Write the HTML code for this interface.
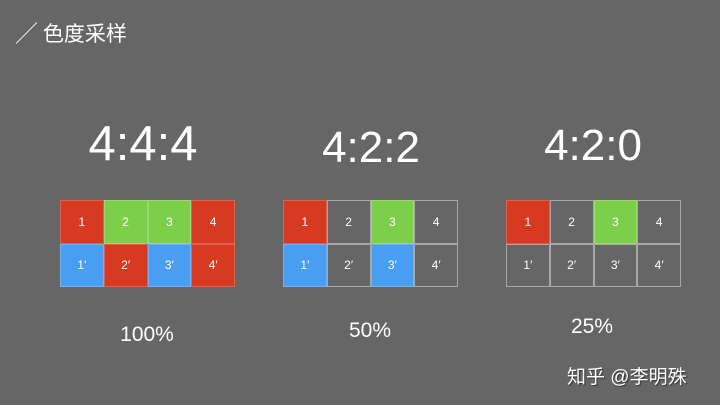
<!DOCTYPE html>
<html><head><meta charset="utf-8"><style>
html,body{margin:0;padding:0}
body{width:720px;height:405px;background:#666;position:relative;overflow:hidden;font-family:"Liberation Sans","Noto Sans CJK SC",sans-serif;color:#fff}
.t{position:absolute;white-space:nowrap}
.grid{position:absolute;width:175px;height:87px}
.cell{position:absolute;width:43.75px;height:43.5px;box-sizing:border-box;border:1px solid #a8a8a8;font-size:12px;display:flex;align-items:center;justify-content:center}
.r{background:#d63b22;border-color:#e06050}.g{background:#7dcf4b;border-color:#9ad870}.b{background:#4a9ef2;border-color:#70b2f4}
</style></head><body>
<div class="t" style="left:16px;top:18px;font-size:21px;">╱ 色度采样</div>
<div class="t" style="left:143px;top:116px;transform:translateX(-50%);font-size:49px">4:4:4</div>
<div class="t" style="left:371px;top:123px;transform:translateX(-50%);font-size:44px">4:2:2</div>
<div class="t" style="left:593px;top:121px;transform:translateX(-50%);font-size:44px">4:2:0</div>
<div class="t" style="left:147px;top:323px;transform:translateX(-50%);font-size:21px">100%</div>
<div class="t" style="left:370px;top:319px;transform:translateX(-50%);font-size:21px">50%</div>
<div class="t" style="left:592px;top:315px;transform:translateX(-50%);font-size:21px">25%</div>
<div class="t" style="left:567px;top:362px;font-size:19px;text-shadow:1px 1px 1px #333">知乎 @李明殊</div>
<div id="g1" class="grid" style="left:60px;top:200px"></div>
<div id="g2" class="grid" style="left:283px;top:200px"></div>
<div id="g3" class="grid" style="left:506px;top:200px"></div>
<script>
const topLabels=['1','2','3','4'];
const botLabels=["1′","2′","3′","4′"];
const g1Top=['r','g','g','r'], g1Bot=['b','r','b','r'];
const g2Top=['r','','g',''], g2Bot=['b','','b',''];
const g3Top=['r','','g',''], g3Bot=['','','',''];
function build(id,tc,bc){
 const g=document.getElementById(id);
 [[tc,topLabels,0],[bc,botLabels,1]].forEach(([cols,labs,row])=>{
  for(let i=0;i<4;i++){
   const c=document.createElement('div');
   c.className='cell '+cols[i];
   c.style.left=(i*43.75)+'px';c.style.top=(row*43.5)+'px';
   c.textContent=labs[i];
   
   
   g.appendChild(c);
  }
 });
}
build('g1',g1Top,g1Bot);build('g2',g2Top,g2Bot);build('g3',g3Top,g3Bot);
</script>
</body></html>
